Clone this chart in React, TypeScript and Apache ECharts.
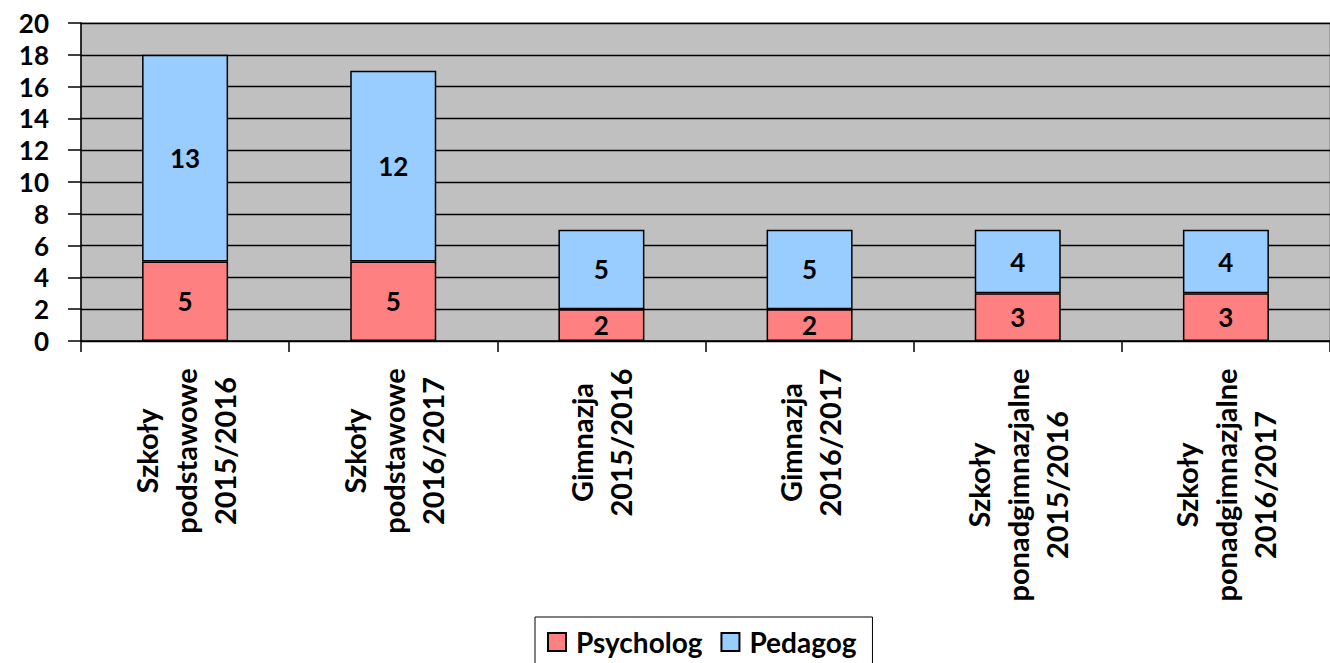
import React, { useEffect, useRef } from "react";
import * as echarts from "echarts";

const categories: string[][] = [
  ["Szkoły", "podstawowe", "2015/2016"],
  ["Szkoły", "podstawowe", "2016/2017"],
  ["Gimnazja", "2015/2016"],
  ["Gimnazja", "2016/2017"],
  ["Szkoły", "ponadgimnazjalne", "2015/2016"],
  ["Szkoły", "ponadgimnazjalne", "2016/2017"],
];
const psycholog = [5, 5, 2, 2, 3, 3];
const pedagog = [13, 12, 5, 5, 4, 4];
const seriesNames = ["Psycholog", "Pedagog"];

const FONT = "Lato, 'Open Sans', sans-serif";
const XFONT_SIZE = 29;

function measure(text: string): number {
  const c = document.createElement("canvas");
  const ctx = c.getContext("2d");
  if (!ctx) return text.length * 15;
  ctx.font = `bold ${XFONT_SIZE}px Lato`;
  return ctx.measureText(text).width;
}

export default function App() {
  const ref = useRef<HTMLDivElement>(null);
  useEffect(() => {
    if (!ref.current) return;
    const chart = echarts.init(ref.current, undefined, { renderer: "svg" });
    const rich: Record<string, any> = {};
    categories.forEach((lines, i) => {
      const w = Math.ceil(Math.max(...lines.map(measure))) + 2;
      rich["w" + i] = {
        width: w,
        align: "center",
        fontSize: XFONT_SIZE,
        fontWeight: "bold",
        fontFamily: FONT,
        lineHeight: 39,
        color: "#000",
      };
    });
    const labels = categories.map((l) => l.join(" "));
    const labelStyle = {
      show: true,
      position: "inside",
      color: "#000",
      fontWeight: "bold",
      fontSize: 26,
      fontFamily: FONT,
    };
    chart.setOption({
      animation: false,
      backgroundColor: "#fff",
      textStyle: { fontFamily: FONT },
      grid: {
        left: 81,
        right: 0,
        top: 23,
        bottom: 322,
        show: true,
        backgroundColor: "#C0C0C0",
        borderColor: "#808080",
        borderWidth: 1,
      },
      legend: {
        data: seriesNames,
        left: 535,
        top: 617,
        padding: [11, 16, 12, 12],
        borderColor: "#000",
        borderWidth: 1,
        itemWidth: 18,
        itemHeight: 18,
        itemGap: 18,
        icon: "rect",
        textStyle: {
          fontSize: 28,
          fontWeight: "bold",
          fontFamily: FONT,
          color: "#000",
          padding: [0, 0, 0, 5],
        },
      },
      xAxis: {
        type: "category",
        data: labels,
        boundaryGap: true,
        axisLine: { show: true, lineStyle: { color: "#000", width: 1.5 } },
        axisTick: { show: true, length: 11, alignWithLabel: false, lineStyle: { color: "#000", width: 1.5 } },
        axisLabel: {
          rotate: 90,
          interval: 0,
          margin: 26,
          formatter: (_v: string, idx: number) =>
            categories[idx].map((t) => `{w${idx}|${t}}`).join("\n"),
          rich,
        },
      },
      yAxis: {
        type: "value",
        min: 0,
        max: 20,
        interval: 2,
        axisLine: { show: true, lineStyle: { color: "#000", width: 1.5 } },
        axisTick: { show: true, length: 13, lineStyle: { color: "#000", width: 1.5 } },
        splitLine: { show: true, lineStyle: { color: "#000", width: 1.4 } },
        axisLabel: {
          margin: 32,
          fontSize: 26,
          lineHeight: 26,
          fontWeight: "bold",
          fontFamily: FONT,
          color: "#000",
        },
      },
      series: [
        {
          name: seriesNames[0],
          type: "bar",
          stack: "total",
          data: psycholog,
          barWidth: 86,
          itemStyle: { color: "#FF8080", borderColor: "#000", borderWidth: 1.5 },
          label: labelStyle,
        },
        {
          name: seriesNames[1],
          type: "bar",
          stack: "total",
          data: pedagog,
          barWidth: 86,
          itemStyle: { color: "#99CCFF", borderColor: "#000", borderWidth: 1.5 },
          label: labelStyle,
        },
      ],
    });
    return () => chart.dispose();
  }, []);
  return (
    <div
      ref={ref}
      style={{ position: "absolute", left: 0, top: 0, width: 1330, height: 663 }}
    />
  );
}
